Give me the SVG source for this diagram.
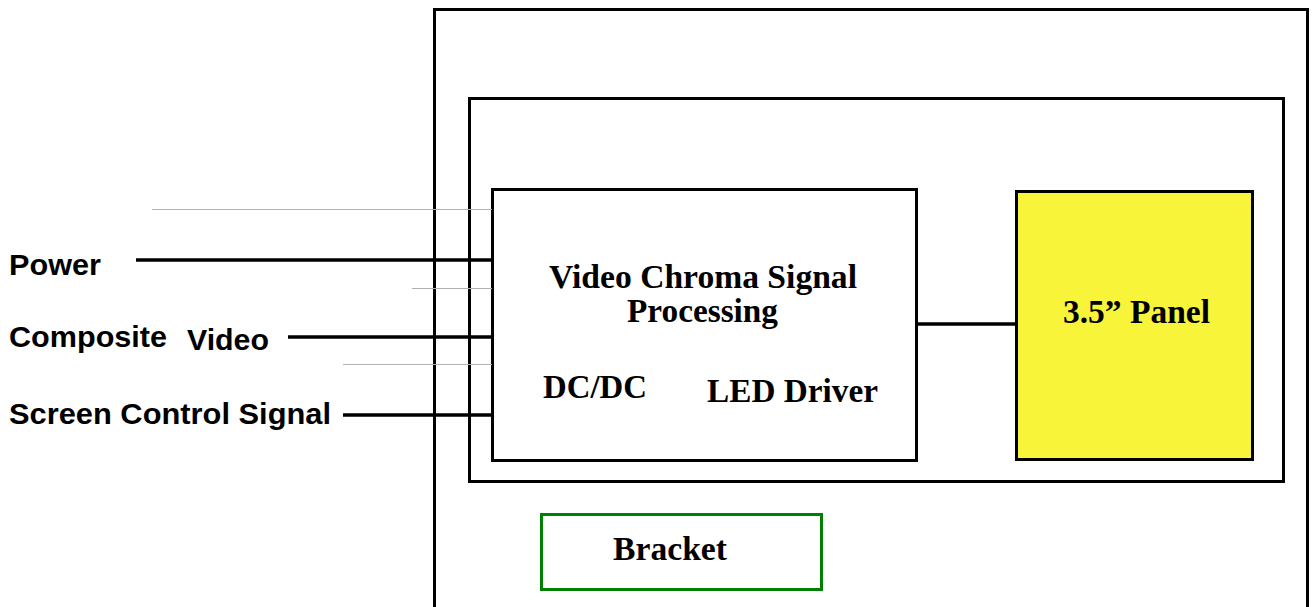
<svg xmlns="http://www.w3.org/2000/svg" width="1315" height="607" viewBox="0 0 1315 607">
<style>
.box{fill:none;stroke:#000;stroke-width:3}
.sans{font-family:"Liberation Sans",Arial,sans-serif;font-weight:bold;font-size:29px;fill:#000}
.serif{font-family:"Liberation Serif","Times New Roman",serif;font-weight:bold;font-size:34px;fill:#000}
.wire{stroke:#000;stroke-width:3.5;fill:none}
.thin{stroke:#b0b0b0;stroke-width:1;fill:none}
</style>
<rect width="1315" height="607" fill="#fff"/>
<g id="enclosure"><rect class="box" x="434.5" y="9.5" width="873" height="610"/></g>
<g id="module"><rect class="box" x="469.5" y="98.5" width="814" height="383"/></g>
<g id="processing">
<rect class="box" x="492.5" y="189.5" width="424" height="271" fill="#fff"/>
<text class="serif" x="703" y="288" text-anchor="middle" textLength="308" lengthAdjust="spacingAndGlyphs">Video Chroma Signal</text>
<text class="serif" x="702.5" y="322" text-anchor="middle" textLength="151" lengthAdjust="spacingAndGlyphs">Processing</text>
<text class="serif" x="543" y="398" textLength="104" lengthAdjust="spacingAndGlyphs">DC/DC</text>
<text class="serif" x="707" y="402" textLength="171" lengthAdjust="spacingAndGlyphs">LED Driver</text>
</g>
<g id="panel">
<rect x="1016.5" y="191.5" width="236" height="268" fill="#f8f43a" stroke="#000" stroke-width="3"/>
<text class="serif" x="1063" y="323" textLength="147" lengthAdjust="spacingAndGlyphs">3.5” Panel</text>
</g>
<g id="bracket">
<rect x="541.5" y="514.5" width="280" height="75" fill="none" stroke="#008000" stroke-width="3"/>
<text class="serif" x="613" y="560" textLength="114" lengthAdjust="spacingAndGlyphs">Bracket</text>
</g>
<g id="labels">
<text class="sans" x="9" y="275" textLength="92" lengthAdjust="spacingAndGlyphs">Power</text>
<text class="sans" x="9" y="347" textLength="158" lengthAdjust="spacingAndGlyphs">Composite</text>
<text class="sans" x="187" y="350" textLength="82" lengthAdjust="spacingAndGlyphs">Video</text>
<text class="sans" x="9" y="424" textLength="322" lengthAdjust="spacingAndGlyphs">Screen Control Signal</text>
</g>
<g id="connectors">
<line class="thin" x1="152" y1="209.5" x2="492" y2="209.5"/>
<line class="thin" x1="412" y1="288.5" x2="492" y2="288.5"/>
<line class="thin" x1="343" y1="364.5" x2="492" y2="364.5"/>
<line class="wire" x1="136" y1="260" x2="492" y2="260"/>
<line class="wire" x1="288" y1="337" x2="492" y2="337"/>
<line class="wire" x1="343" y1="415" x2="492" y2="415"/>
<line class="wire" x1="917" y1="324" x2="1016" y2="324"/>
</g>
</svg>
